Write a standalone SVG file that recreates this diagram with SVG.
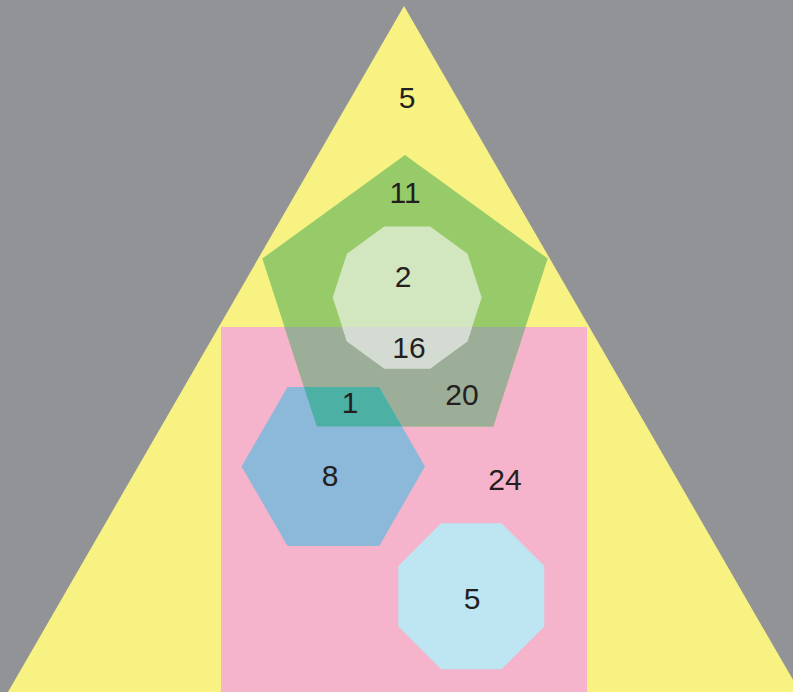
<svg xmlns="http://www.w3.org/2000/svg" width="793" height="692" viewBox="0 0 793 692">
<style>
.lbl{font-family:"Liberation Sans","Arial",sans-serif;font-size:30px;fill:#231f20;text-anchor:middle}
</style>
<defs>
<clipPath id="cpPent"><polygon points="405,155 547.7,258.6 493.2,426.4 316.8,426.4 262.3,258.6"/></clipPath>
<clipPath id="cpRect"><rect x="221" y="327" width="366" height="365"/></clipPath>
</defs>
<rect x="0" y="0" width="793" height="692" fill="#929397"/>
<g id="triangle">
<polygon points="404,6 800,692 8,692" fill="#f8f283"/>
<text class="lbl" x="407" y="108">5</text>
</g>
<g id="rectangle">
<rect x="221" y="327" width="366" height="365" fill="#f6b3cc"/>
<text class="lbl" x="505" y="490">24</text>
</g>
<g id="pentagon">
<polygon points="405,155 547.7,258.6 493.2,426.4 316.8,426.4 262.3,258.6" fill="#97cb69"/>
<polygon clip-path="url(#cpRect)" points="405,155 547.7,258.6 493.2,426.4 316.8,426.4 262.3,258.6" fill="#9cad98"/>
<text class="lbl" x="405" y="203">11</text>
<text class="lbl" x="462" y="405">20</text>
</g>
<g id="decagon">
<polygon points="481.7,297.5 467.5,253.7 430.2,226.6 384.2,226.6 346.9,253.7 332.7,297.5 346.9,341.3 384.2,368.4 430.2,368.4 467.5,341.3" fill="#d2e6c0"/>
<polygon clip-path="url(#cpRect)" points="481.7,297.5 467.5,253.7 430.2,226.6 384.2,226.6 346.9,253.7 332.7,297.5 346.9,341.3 384.2,368.4 430.2,368.4 467.5,341.3" fill="#d3dbd2"/>
<text class="lbl" x="403" y="287">2</text>
<text class="lbl" x="409" y="358">16</text>
</g>
<g id="hexagon">
<polygon points="425,466.5 379.2,387.1 287.5,387.1 241.6,466.5 287.5,545.9 379.2,545.9" fill="#8cb8da"/>
<polygon clip-path="url(#cpPent)" points="425,466.5 379.2,387.1 287.5,387.1 241.6,466.5 287.5,545.9 379.2,545.9" fill="#4cb1a4"/>
<text class="lbl" x="350" y="413">1</text>
<text class="lbl" x="330" y="486">8</text>
</g>
<g id="octagon">
<polygon points="441.1,523.2 501.5,523.2 544.3,566 544.3,626.4 501.5,669.2 441.1,669.2 398.3,626.4 398.3,566" fill="#bee5f2"/>
<text class="lbl" x="472" y="609">5</text>
</g>
<g id="connectors"/>
</svg>
